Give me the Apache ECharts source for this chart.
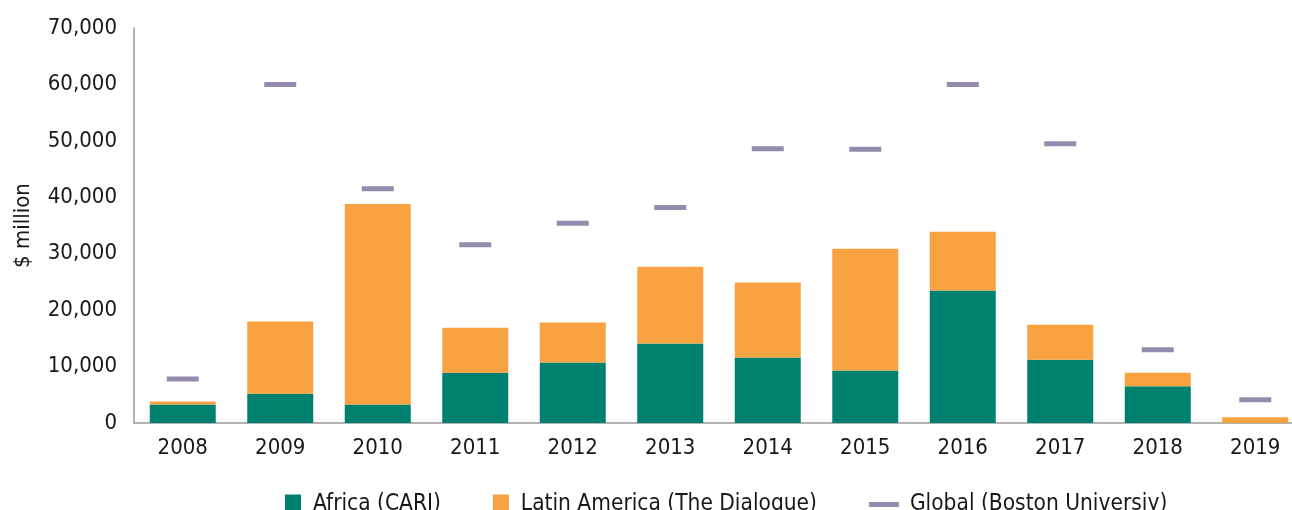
<!DOCTYPE html>
<html lang="en">
<head>
    <meta charset="UTF-8">
    <title>Chinese loans</title>
    <script src="https://cdn.jsdelivr.net/npm/echarts@6.0.0/dist/echarts.min.js"></script>
</head>
<body style="margin: 0; background-color: white;">
<div id="chart" style="width: 1292px; height: 510px;"></div>

<script>
    // data ($ million)
    const years = ['2008', '2009', '2010', '2011', '2012', '2013', '2014', '2015', '2016', '2017', '2018', '2019'];
    const africa = [3300, 5200, 3300, 8900, 10700, 14100, 11600, 9300, 23500, 11200, 6500, 0];
    const latinAmerica = [500, 12800, 35500, 8000, 7100, 13600, 13300, 21600, 10400, 6200, 2400, 1000];
    const globalBU = [7800, 60000, 41500, 31600, 35400, 38200, 48600, 48500, 60000, 49500, 13000, 4100];
    const yTicks = [0, 10000, 20000, 30000, 40000, 50000, 60000, 70000];

    const FONT = "'DejaVu Sans Condensed', sans-serif";
    const TEXT_COLOR = '#1a1718';

    const myChart = echarts.init(document.getElementById('chart'));

    const option = {
        animation: false,
        grid: {
            left: 134,
            right: -12,
            top: 28,
            bottom: 87,
            outerBoundsMode: 'none'
        },
        legend: {
            left: 280,
            top: 488,
            itemWidth: 30,
            itemHeight: 20,
            itemGap: 52,
            textStyle: {
                fontFamily: FONT,
                fontSize: 22.5,
                color: TEXT_COLOR
            },
            data: [
                { name: 'Africa (CARI)', icon: 'path://M0,0 H16 V20 H0 Z' },
                { name: 'Latin America (The Dialogue)', icon: 'path://M0,0 H16 V20 H0 Z' },
                {
                    name: 'Global (Boston Universiy)',
                    icon: 'path://M0,0 H30 V5 H0 Z',
                    textStyle: { padding: [0, 0, 0, 6] }
                }
            ]
        },
        xAxis: {
            type: 'category',
            data: years,
            axisLine: { lineStyle: { color: '#999999', width: 1.5 } },
            axisTick: { show: false },
            axisLabel: {
                margin: 14,
                fontFamily: FONT,
                fontSize: 22,
                color: TEXT_COLOR
            }
        },
        yAxis: {
            type: 'value',
            min: yTicks[0],
            max: yTicks[yTicks.length - 1],
            interval: 10000,
            name: '$ million',
            nameLocation: 'middle',
            nameGap: 100,
            nameTextStyle: {
                fontFamily: FONT,
                fontSize: 22,
                color: TEXT_COLOR
            },
            axisLine: { show: true, lineStyle: { color: '#999999', width: 1.5 } },
            axisTick: { show: false },
            splitLine: { show: false },
            axisLabel: {
                margin: 17,
                fontFamily: FONT,
                fontSize: 22,
                color: TEXT_COLOR,
                formatter: function (v) {
                    return v.toLocaleString('en-US');
                }
            }
        },
        series: [
            {
                name: 'Africa (CARI)',
                type: 'bar',
                stack: 'total',
                barWidth: 66,
                itemStyle: { color: '#00806f' },
                data: africa
            },
            {
                name: 'Latin America (The Dialogue)',
                type: 'bar',
                stack: 'total',
                barWidth: 66,
                itemStyle: { color: '#f9a242' },
                data: latinAmerica
            },
            {
                name: 'Global (Boston Universiy)',
                type: 'scatter',
                symbol: 'rect',
                symbolSize: [32, 5],
                itemStyle: { color: '#7b6f99' },
                data: globalBU
            }
        ]
    };

    myChart.setOption(option);
</script>
</body>
</html>
